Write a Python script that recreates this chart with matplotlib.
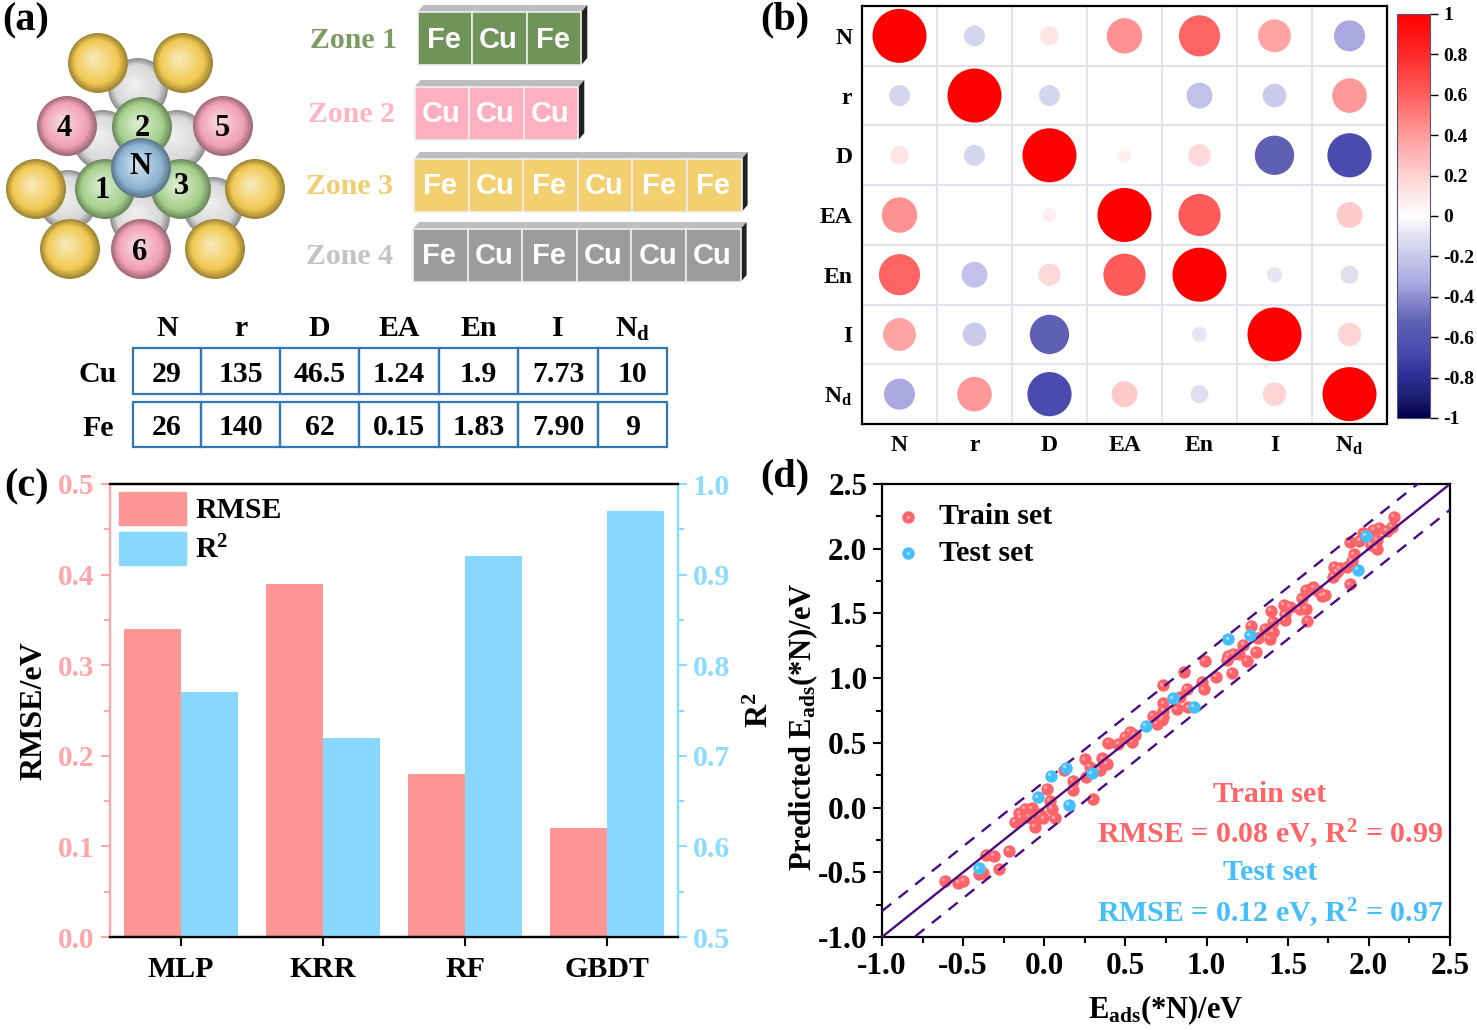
import numpy as np
import matplotlib
matplotlib.use('Agg')
from matplotlib import pyplot as plt
from matplotlib.colors import LinearSegmentedColormap, to_rgb
from matplotlib.legend_handler import HandlerTuple
from matplotlib.patches import Circle, Polygon, Patch, Rectangle
from matplotlib.transforms import ScaledTranslation

plt.rcParams['font.family'] = ['Liberation Serif', 'DejaVu Serif']
plt.rcParams['font.weight'] = 'bold'
plt.rcParams['axes.labelweight'] = 'bold'
plt.rcParams['mathtext.default'] = 'regular'
plt.rcParams['axes.unicode_minus'] = False

W, H = 1477, 1030

# panel (a)
zone_names = ['Zone 1', 'Zone 2', 'Zone 3', 'Zone 4']
zone_atoms = [['Fe', 'Cu', 'Fe'],
              ['Cu', 'Cu', 'Cu'],
              ['Fe', 'Cu', 'Fe', 'Cu', 'Fe', 'Fe'],
              ['Fe', 'Cu', 'Fe', 'Cu', 'Cu', 'Cu']]
features = ['N', 'r', 'D', 'EA', 'En', 'I', 'N$_d$']
cu_values = ['29', '135', '46.5', '1.24', '1.9', '7.73', '10']
fe_values = ['26', '140', '62', '0.15', '1.83', '7.90', '9']

# panel (b)
corr = [[1.00, -0.15, 0.12, 0.43, 0.58, 0.37, -0.33],
        [-0.15, 1.00, -0.15, 0.01, -0.23, -0.19, 0.41],
        [0.12, -0.15, 1.00, 0.07, 0.17, -0.53, -0.67],
        [0.43, 0.01, 0.07, 1.00, 0.61, 0.01, 0.23],
        [0.58, -0.23, 0.17, 0.61, 1.00, -0.08, -0.11],
        [0.37, -0.19, -0.53, 0.01, -0.08, 1.00, 0.19],
        [-0.33, 0.41, -0.67, 0.23, -0.11, 0.19, 1.00]]
cbar_ticks = [-1, -0.8, -0.6, -0.4, -0.2, 0, 0.2, 0.4, 0.6, 0.8, 1]
cbar_labels = ['-1', '-0.8', '-0.6', '-0.4', '-0.2', '0', '0.2', '0.4', '0.6', '0.8', '1']

# panel (c)
models = ['MLP', 'KRR', 'RF', 'GBDT']
rmse = [0.34, 0.39, 0.18, 0.12]
r2 = [0.77, 0.72, 0.92, 0.97]

# panel (d)
train_x = [2.154, 2.140, 2.109, 2.064, 2.027, 1.965, 1.941, 1.883, 2.048, 2.013, 2.048, 1.908,
           1.894, 1.863, 1.822, 1.787, 1.801, 1.781, 1.883, 1.657, 1.612, 1.688, 1.729, 1.709,
           1.585, 1.575, 1.612, 1.514, 1.477, 1.483, 1.483, 1.620, 1.394, 1.407, 1.360, 1.407,
           1.390, 1.271, 1.318, 1.226, 1.304, 1.201, 1.164, 1.134, 1.123, 1.247, 0.990, 1.154,
           1.056, 0.863, 0.969, 0.984, 0.877, 0.729, 0.836, 0.733, 0.815, 0.887, 0.733, 0.729,
           0.667, 0.692, 0.723, 0.528, 0.559, 0.497, 0.538, 0.456, 0.395, 0.358, 0.251, 0.282,
           0.384, 0.343, 0.257, 0.122, 0.175, 0.175, 0.015, 0.298, 0.035, 0.045, 0.066, -0.078,
           -0.119, -0.154, -0.146, -0.180, -0.067, -0.057, -0.026, -0.006, -0.098, -0.359, -0.310,
           -0.217, -0.277, -0.376, -0.400, -0.612, -0.530, -0.499]
train_y = [2.248, 2.170, 2.139, 2.163, 2.145, 2.119, 2.062, 2.049, 2.067, 2.029, 1.998, 1.957,
           1.905, 1.856, 1.848, 1.861, 1.823, 1.784, 1.725, 1.702, 1.681, 1.673, 1.642, 1.637,
           1.617, 1.532, 1.534, 1.552, 1.565, 1.493, 1.449, 1.441, 1.519, 1.436, 1.380, 1.359,
           1.302, 1.403, 1.313, 1.256, 1.204, 1.186, 1.186, 1.173, 1.140, 1.132, 1.132, 1.042,
           1.011, 1.047, 0.973, 0.913, 0.916, 0.944, 0.851, 0.805, 0.759, 0.774, 0.748, 0.697,
           0.707, 0.645, 0.676, 0.586, 0.560, 0.547, 0.509, 0.491, 0.501, 0.380, 0.372, 0.315,
           0.336, 0.290, 0.238, 0.290, 0.205, 0.135, 0.143, 0.063, 0.050, -0.012, -0.084, -0.007,
           -0.012, -0.045, -0.076, -0.110, -0.092, -0.148, -0.053, -0.084, -0.071, -0.367, -0.375,
           -0.336, -0.473, -0.504, -0.517, -0.568, -0.581, -0.568]
test_x = [1.982, 1.931, 1.267, 1.134, 0.791, 0.922, 0.627, 0.134, 0.041, 0.292, -0.039, 0.152, -0.402]
test_y = [2.098, 1.835, 1.331, 1.300, 0.844, 0.777, 0.630, 0.308, 0.246, 0.264, 0.078, 0.019, -0.470]
fit_line = [-1.0, 2.5]
band = 0.2

PINK = '#FF9696'
PINK_TXT = '#FFA6A8'
CYAN = '#87D7FF'
CYAN_TXT = '#8CDCFF'
TRAIN = '#FF6469'
TEST = '#46BEFA'
INDIGO = '#4B0A82'


def px_axes(left, top, right, bottom):
    return fig.add_axes([left / W, 1 - bottom / H, (right - left) / W, (bottom - top) / H])


def lab(x, y, s, size, color='k', ha='center', **kw):
    return ax0.text(x, y, s, fontsize=size, color=color, ha=ha, va='center', **kw)


def sphere(x, y, r, color, z):
    # fake shading, a stack of shrinking circles drifting to the upper left
    base = np.array(to_rgb(color))
    n = 14
    for i in range(n):
        t = i / (n - 1)
        c = base * (0.68 + 0.32 * min(t * 4, 1)) if t < 0.25 else base + (1 - base) * (t - 0.25) * 0.8
        rr = r * (1 - t * 0.92)
        ax0.add_patch(Circle((x - t * r * 0.15, y - t * r * 0.15), rr, fc=c, ec='none', zorder=z))


fig = plt.figure(figsize=(W / 100, H / 100), dpi=100)

# overlay in pixel coordinates for the schematic and the free text
ax0 = fig.add_axes([0, 0, 1, 1], zorder=10)
ax0.set_xlim(0, W)
ax0.set_ylim(H, 0)
ax0.axis('off')

lab(26, 21, '(a)', 29)
lab(785, 20, '(b)', 29)
lab(27, 487, '(c)', 29)
lab(785, 477, '(d)', 29)

# atoms
for x, y in [(138, 88), (103, 140), (177, 140), (68, 200), (213, 207), (140, 217)]:
    sphere(x, y, 30, '#D8D8D8', 1)
for x, y in [(98, 63), (183, 63), (36, 189), (255, 189), (70, 249), (215, 249)]:
    sphere(x, y, 30, '#F0C850', 2)
for x, y in [(67, 126), (223, 126), (141, 249)]:
    sphere(x, y, 30, '#F0A0B4', 2)
for x, y in [(142, 127), (105, 189), (181, 189)]:
    sphere(x, y, 30, '#A5D08C', 3)
sphere(141, 168, 30, '#8CB4D2', 4)
for x, y, s in [(142, 128, '2'), (64, 128, '4'), (222, 128, '5'), (140, 167, 'N'),
                (102, 190, '1'), (181, 187, '3'), (140, 252, '6')]:
    lab(x, y, s, 22, zorder=5)

# zone blocks
zone_txt = ['#7A9B62', '#FFB4C0', '#F0CD6E', '#C3C3C3']
zone_fill = ['#6F9359', '#FFB0C0', '#F2D070', '#9C9C9C']
zone_x = [417.5, 414.5, 414, 413]
zone_top = [12, 87, 159, 229]
label_x = [353, 351, 350, 349]
for k in range(4):
    lab(label_x[k], zone_top[k] + 28, zone_names[k], 21.5, color=zone_txt[k])
    bw, bh = 54.6, 53
    for j, a in enumerate(zone_atoms[k]):
        bx = zone_x[k] + j * bw
        ax0.add_patch(Polygon([(bx, zone_top[k]), (bx + 6, zone_top[k] - 7), (bx + bw + 6, zone_top[k] - 7),
                               (bx + bw, zone_top[k])], fc='#BDBDBD', ec='none', zorder=1))
        ax0.add_patch(Rectangle((bx, zone_top[k]), bw, bh, fc=zone_fill[k], ec='#EFEFEF', lw=1.2, zorder=2))
        lab(bx + bw / 2 - 1, zone_top[k] + bh / 2 + 1, a, 21, color='w', zorder=3, family='Liberation Sans')
    end = zone_x[k] + len(zone_atoms[k]) * bw
    ax0.add_patch(Polygon([(end, zone_top[k]), (end + 6, zone_top[k] - 7), (end + 6, zone_top[k] + bh - 7),
                           (end, zone_top[k] + bh)], fc='#222222', ec='none', zorder=1))

# element table
col_edges = [133, 201, 280, 359, 439, 518, 598, 667]
row_edges = [(348, 394), (402, 447)]
for j, name in enumerate(features):
    cx = (col_edges[j] + col_edges[j + 1]) / 2
    lab(cx, 329, name, 21.5)
    for row, vals in zip(row_edges, [cu_values, fe_values]):
        lab(cx, (row[0] + row[1]) / 2 + 3, vals[j], 21.5)
        ax0.add_patch(Rectangle((col_edges[j], row[0]), col_edges[j + 1] - col_edges[j], row[1] - row[0],
                                fc='none', ec='#3278B4', lw=1.6))
lab(98, 375, 'Cu', 21.5)
lab(98, 428, 'Fe', 21.5)

# (b) correlation bubbles
cmap = LinearSegmentedColormap.from_list('corr', [(0.0, '#00004B'), (0.05, '#1E1E6E'), (0.1, '#2D2D96'),
                                                  (0.165, '#4B4BAF'), (0.235, '#5F5FB4'), (0.335, '#AAAAE1'),
                                                  (0.4, '#C8C8EB'), (0.45, '#E1E1F0'),
                                                  (0.5, '#FFFFFF'), (0.6, '#FFD2D2'), (0.7, '#FF9C9C'),
                                                  (0.8, '#FF5F5F'), (0.9, '#FF2A2A'), (1.0, '#FF0000')])
ax_b = px_axes(862, 6, 1387, 424)
corr_arr = np.array(corr)
xx, yy = np.meshgrid(range(7), range(7))
for v in np.arange(0.5, 6):
    ax_b.axvline(v, color='#DFDFEA', lw=1.3, zorder=1)
    ax_b.axhline(v, color='#DFDFEA', lw=1.3, zorder=1)
bub = ax_b.scatter(xx.ravel(), yy.ravel(), s=1512 * np.abs(corr_arr.ravel()), c=corr_arr.ravel(),
                   cmap=cmap, vmin=-1, vmax=1, linewidths=0, zorder=2)
ax_b.set_xlim(-0.5, 6.5)
ax_b.set_ylim(6.5, -0.5)
ax_b.set_xticks(range(7))
ax_b.set_yticks(range(7))
ax_b.set_xticklabels(features, fontsize=17)
ax_b.set_yticklabels(features, fontsize=17)
ax_b.tick_params(axis='x', length=0, pad=8)
ax_b.tick_params(axis='y', length=0, pad=7)
for s in ax_b.spines.values():
    s.set_linewidth(1.6)

cax = px_axes(1397, 14, 1430, 418)
cb = fig.colorbar(bub, cax=cax)
cb.set_ticks(cbar_ticks)
cb.set_ticklabels(cbar_labels, fontsize=14)
cb.ax.tick_params(length=6, width=1, pad=3.5)
cb.outline.set_edgecolor('#555577')

# (c) bars
ax_c = px_axes(110, 484, 678, 937)
pos = np.arange(len(models))
ax_c.bar(pos - 0.2, rmse, 0.4, color=PINK)
ax_c.set_xlim(-0.5, 3.5)
ax_c.set_ylim(0, 0.5)
ax_c.set_xticks(pos)
ax_c.set_xticklabels(models, fontsize=21.5)
ax_c.set_yticks(np.arange(0, 0.51, 0.1))
ax_c.set_yticks(np.arange(0.05, 0.5, 0.1), minor=True)
ax_c.tick_params(axis='x', length=6.5, width=1.5, pad=7)
ax_c.tick_params(axis='y', which='major', length=6.5, width=1.5, colors=PINK_TXT, labelsize=21, pad=5)
ax_c.tick_params(axis='y', which='minor', length=4, width=1.5, colors=PINK_TXT)
ax_c.set_ylabel('RMSE/eV', fontsize=23)
ax_c.yaxis.set_label_coords(-0.108, 0.5)

ax_r = ax_c.twinx()
ax_r.bar(pos + 0.2, r2, 0.4, color=CYAN)
ax_r.set_ylim(0.5, 1.0)
ax_r.set_yticks(np.arange(0.5, 1.01, 0.1))
ax_r.set_yticks(np.arange(0.55, 1.0, 0.1), minor=True)
ax_r.tick_params(axis='y', which='major', length=6.5, width=1.5, colors=CYAN_TXT, labelsize=21.5, pad=4)
ax_r.tick_params(axis='y', which='minor', length=4, width=1.5, colors=CYAN_TXT)
ax_r.set_ylabel('R$^2$', fontsize=23)
ax_r.yaxis.set_label_coords(1.12, 0.5)
for a in (ax_c, ax_r):
    a.spines['left'].set_color(PINK_TXT)
    a.spines['right'].set_color(CYAN_TXT)
    for s in a.spines.values():
        s.set_linewidth(1.6)
ax_r.legend(handles=[Patch(color=PINK, label='RMSE'), Patch(color=CYAN, label='R$^2$')],
            loc='upper left', bbox_to_anchor=(9 / 568, 1 - 8 / 453), borderaxespad=0, borderpad=0,
            frameon=False, fontsize=21.5, handlelength=2.25, handleheight=1.3, labelspacing=0.25,
            handletextpad=0.3)

# (d) parity plot
ax_d = px_axes(882, 484, 1450, 937)
hi = ScaledTranslation(-1.2 / 72, 1.2 / 72, fig.dpi_scale_trans)
tr = ax_d.scatter(train_x, train_y, s=80, color=TRAIN, linewidths=0, zorder=2)
tr_hi = ax_d.scatter(train_x, train_y, s=6, color='#FFA0A2', linewidths=0, zorder=2,
                     transform=ax_d.transData + hi)
fit = np.array(fit_line)
ax_d.plot(fit, fit, color=INDIGO, lw=1.7, zorder=3)
ax_d.plot(fit, fit + band, color=INDIGO, lw=1.7, dashes=(5, 4), zorder=3)
ax_d.plot(fit, fit - band, color=INDIGO, lw=1.7, dashes=(5, 4), zorder=3)
te = ax_d.scatter(test_x, test_y, s=80, color=TEST, linewidths=0, zorder=4)
te_hi = ax_d.scatter(test_x, test_y, s=6, color='#A0DCFF', linewidths=0, zorder=4,
                     transform=ax_d.transData + hi)
ax_d.set_xlim(-1, 2.5)
ax_d.set_ylim(-1, 2.5)
ax_d.set_xticks(np.arange(-1, 2.51, 0.5))
ax_d.set_yticks(np.arange(-1, 2.51, 0.5))
ax_d.set_xticks(np.arange(-0.75, 2.5, 0.5), minor=True)
ax_d.set_yticks(np.arange(-0.75, 2.5, 0.5), minor=True)
ax_d.tick_params(which='major', length=6.5, width=1.5, labelsize=22.5, pad=4)
ax_d.tick_params(which='minor', length=4, width=1.5)
for s in ax_d.spines.values():
    s.set_linewidth(1.6)
ax_d.set_xlabel('E$_{ads}$(*N)/eV', fontsize=22)
ax_d.set_ylabel('Predicted E$_{ads}$(*N)/eV', fontsize=22)
ax_d.xaxis.set_label_coords(0.5, -0.125)
ax_d.yaxis.set_label_coords(-0.11, 0.464)
ax_d.legend([(tr, tr_hi), (te, te_hi)], ['Train set', 'Test set'], loc='upper left',
            handler_map={tuple: HandlerTuple(ndivide=1, pad=0)}, bbox_to_anchor=(0.0135, 0.957),
            borderaxespad=0, borderpad=0, frameon=False, fontsize=21.5, labelspacing=0.32,
            handlelength=1.2, handletextpad=0.45, scatterpoints=1)

lab(1270, 795, 'Train set', 21.5, color=TRAIN)
lab(1270, 834, 'RMSE = 0.08 eV, R$^2$ = 0.99', 21.5, color=TRAIN)
lab(1270, 873, 'Test set', 21.5, color=TEST)
lab(1270, 913, 'RMSE = 0.12 eV, R$^2$ = 0.97', 21.5, color=TEST)

fig.savefig('out.png', dpi=100)
